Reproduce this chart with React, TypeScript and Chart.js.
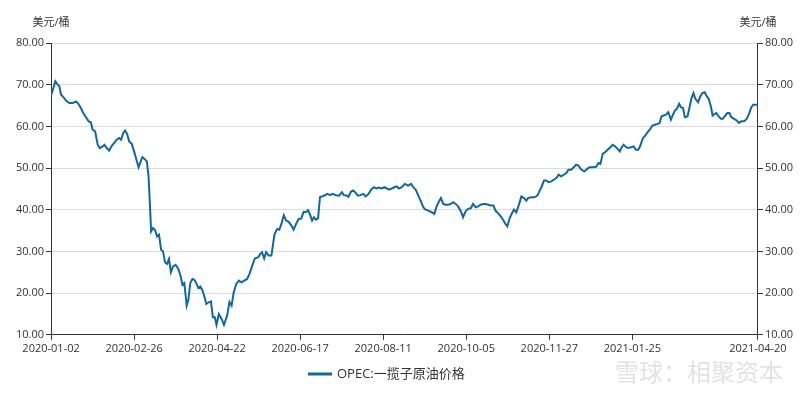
import React, { useEffect, useRef } from "react";
import { Chart, registerables } from "chart.js";

Chart.register(...registerables);

// Trading-day index since 2020-01-02 and OPEC basket price (USD/bbl)
const DAY: number[] = [
  0.0, 1.1, 2.0, 3.1, 3.9, 4.7, 5.8, 7.0, 8.6, 10.2, 11.7, 12.6, 14.0, 15.1, 16.4, 17.7, 18.7, 19.5, 20.7, 21.9,
  22.9, 24.2, 25.1, 26.1, 27.3, 28.6, 29.6, 30.8, 32.0, 32.9, 33.9, 34.8, 35.7, 36.7, 37.9, 39.0, 40.1, 41.1, 41.8, 42.9,
  43.9, 45.0, 45.8, 46.4, 47.0, 47.9, 48.8, 49.8, 50.7, 51.7, 52.6, 53.5, 54.5, 55.4, 56.3, 57.3, 58.5, 59.8, 60.9, 61.7,
  62.6, 63.7, 64.5, 65.4, 66.4, 67.3, 68.2, 69.2, 70.1, 71.0, 72.0, 72.9, 74.1, 75.1, 76.0, 76.9, 77.7, 78.8, 80.1, 81.2,
  82.7, 83.8, 84.8, 85.8, 87.0, 88.2, 89.4, 90.7, 92.1, 93.2, 94.5, 95.7, 97.3, 98.3, 99.1, 100.1, 101.0, 102.2, 103.5, 104.4,
  105.0, 106.2, 107.2, 108.2, 109.3, 110.4, 111.6, 112.9, 113.9, 115.1, 116.3, 117.5, 118.6, 119.7, 120.7, 121.8, 122.6, 123.5, 124.4, 125.4,
  126.3, 127.2, 128.5, 129.7, 131.1, 132.2, 133.8, 135.3, 136.6, 137.5, 138.8, 139.7, 140.8, 141.9, 142.8, 144.1, 145.3, 146.6, 147.8, 149.1,
  150.3, 151.6, 152.8, 154.1, 155.3, 156.5, 157.7, 158.7, 160.0, 161.2, 162.4, 163.4, 164.7, 166.2, 167.8, 169.1, 170.1, 171.3, 172.5, 173.7,
  174.8, 175.9, 177.2, 178.7, 180.0, 181.1, 182.2, 183.1, 184.2, 185.3, 186.5, 187.8, 188.9, 190.0, 191.2, 192.5, 193.5, 194.7, 195.9, 197.2,
  198.2, 199.4, 200.6, 201.8, 202.9, 204.0, 205.3, 206.5, 207.8, 208.7, 209.9, 211.2, 212.3, 213.4, 214.3, 215.4, 216.5, 217.4, 218.5, 219.6,
  220.9, 222.1, 223.2, 224.0, 225.6, 227.1, 228.4, 229.5, 230.3, 231.5, 232.6, 233.7, 234.9, 236.2, 237.3, 238.4, 239.6, 240.8, 242.0, 243.0,
  244.3, 245.5, 246.6, 247.7, 248.7, 249.7, 250.5, 251.8, 252.9, 254.4, 256.0, 257.1, 258.0, 259.1, 260.2, 261.4, 262.7, 263.8, 264.9, 266.1,
  267.1, 268.0, 268.9, 270.1, 271.1, 272.4, 273.6, 274.7, 275.8, 276.8, 277.8, 279.0, 280.2, 281.4, 282.5, 283.6, 284.9, 285.8, 286.7, 287.7,
  288.8, 289.9, 291.1, 292.1, 293.0, 293.9, 295.0, 295.8, 296.8, 297.7, 298.9, 299.8, 300.8, 301.7, 302.6, 303.9, 304.9, 305.9, 307.0, 308.0,
  308.9, 309.9, 310.7, 311.4, 312.4, 313.3, 314.6, 315.5, 316.4, 317.6, 318.6, 319.5, 320.8, 322.0, 323.1, 324.2, 325.5, 326.7, 327.8, 328.9,
  329.8, 330.9, 332.0,
];

const PRICE: number[] = [
  67.4, 69.2, 70.8, 70.0, 69.6, 67.6, 67.0, 66.2, 65.6, 65.6, 66.0, 65.6, 64.4, 63.2, 62.2, 61.2, 61.0, 59.2, 58.8, 55.6,
  54.8, 55.2, 55.6, 54.8, 54.2, 55.4, 56.0, 56.8, 57.2, 56.8, 58.4, 59.0, 58.2, 56.4, 55.8, 54.0, 52.0, 50.2, 51.2, 52.6,
  52.2, 51.6, 48.0, 41.6, 34.8, 35.6, 35.2, 33.6, 34.0, 30.4, 30.0, 27.4, 27.0, 28.2, 25.0, 26.4, 26.8, 25.8, 24.0, 22.0,
  22.4, 17.0, 18.4, 22.4, 23.4, 23.2, 22.4, 21.2, 21.6, 20.8, 19.2, 17.4, 17.8, 18.0, 14.2, 14.2, 12.4, 15.0, 13.8, 12.4,
  14.6, 17.9, 17.0, 20.2, 22.2, 23.0, 22.6, 23.0, 23.4, 24.6, 26.6, 28.3, 28.6, 29.4, 29.8, 28.3, 29.8, 29.0, 29.0, 32.2,
  34.2, 35.4, 35.2, 36.6, 38.7, 37.4, 37.1, 36.2, 35.2, 36.6, 37.8, 37.9, 39.5, 39.4, 39.9, 38.6, 37.4, 38.2, 37.6, 37.9,
  43.0, 43.2, 43.4, 43.8, 43.5, 43.8, 43.5, 43.4, 44.2, 43.5, 43.4, 43.1, 44.3, 44.6, 44.2, 43.4, 43.5, 43.8, 43.2, 43.8,
  44.8, 45.4, 45.1, 45.3, 45.1, 45.4, 45.1, 44.8, 45.1, 45.4, 45.6, 45.1, 45.4, 46.2, 45.8, 46.2, 45.4, 44.8, 43.4, 42.0,
  40.6, 40.0, 39.8, 39.4, 39.0, 40.8, 42.0, 42.8, 41.4, 41.2, 41.2, 41.4, 41.8, 41.4, 40.8, 39.6, 38.2, 39.6, 40.2, 40.4,
  41.4, 40.6, 40.8, 41.2, 41.4, 41.4, 41.2, 41.0, 41.0, 39.8, 39.2, 38.4, 37.6, 36.6, 36.0, 38.0, 39.2, 40.0, 39.4, 41.0,
  43.2, 42.8, 42.2, 42.8, 43.0, 43.0, 43.4, 44.6, 45.4, 47.0, 47.0, 46.6, 46.8, 47.2, 47.6, 48.4, 48.0, 48.4, 48.8, 49.6,
  49.6, 50.2, 50.8, 50.6, 49.8, 49.4, 49.2, 49.8, 50.2, 50.2, 50.3, 51.2, 51.0, 53.4, 53.8, 54.4, 55.0, 55.6, 55.2, 54.6,
  54.0, 55.0, 55.6, 55.0, 54.8, 55.0, 55.2, 54.4, 54.4, 55.4, 57.0, 57.8, 58.6, 59.4, 60.2, 60.4, 60.6, 60.8, 62.4, 62.6,
  62.8, 63.4, 61.6, 62.8, 63.8, 64.2, 65.4, 64.6, 64.4, 62.2, 62.4, 64.4, 66.8, 68.0, 66.6, 65.8, 67.2, 68.0, 68.2, 67.2,
  66.6, 64.8, 62.6, 62.9, 63.2, 62.6, 61.8, 61.8, 62.4, 63.2, 63.2, 62.2, 61.8, 61.4, 60.8, 61.2, 61.2, 61.8, 63.0, 64.6,
  65.2, 65.2, 65.2,
];

const X_TICK_DAY: number[] = [0, 39, 78, 117, 156, 195, 234, 273, 332];
const X_TICK_LABEL: string[] = [
  "2020-01-02", "2020-02-26", "2020-04-22", "2020-06-17", "2020-08-11",
  "2020-10-05", "2020-11-27", "2021-01-25", "2021-04-20",
];
const Y_MIN = 10;
const Y_MAX = 80;
const Y_STEP = 10;
const UNIT = "美元/桶";
const SERIES_NAME = "OPEC:一揽子原油价格";
const WATERMARK = "雪球：相聚资本";

const LINE_COLOR = "#14679a";
const TEXT_COLOR = "#333333";
const FONT = "'Open Sans', 'Noto Sans CJK SC', sans-serif";

export default function App() {
  const ref = useRef<HTMLCanvasElement | null>(null);

  useEffect(() => {
    document.body.style.margin = "0";
    const canvas = ref.current;
    if (!canvas) return;

    const overlayPlugin = {
      id: "overlay",
      afterDraw(chart: any) {
        const { ctx, chartArea } = chart;
        ctx.save();
        // unit titles above both y axes
        ctx.font = `11px ${FONT}`;
        ctx.fillStyle = TEXT_COLOR;
        ctx.textAlign = "center";
        ctx.textBaseline = "middle";
        ctx.fillText(UNIT, chartArea.left, 23);
        ctx.fillText(UNIT, chartArea.right, 23);
        // legend
        const ly = 374;
        ctx.strokeStyle = LINE_COLOR;
        ctx.lineWidth = 3;
        ctx.beginPath();
        ctx.moveTo(308, ly);
        ctx.lineTo(332, ly);
        ctx.stroke();
        ctx.font = `13px ${FONT}`;
        ctx.textAlign = "left";
        ctx.fillText(SERIES_NAME, 337, ly);
        // watermark
        ctx.font = `24px 'Noto Sans CJK SC', sans-serif`;
        ctx.fillStyle = "rgba(150,150,150,0.28)";
        ctx.fillText(WATERMARK, 615, 372);
        ctx.restore();
      },
    };

    const yAxis = (position: "left" | "right", grid: boolean) => ({
      type: "linear" as const,
      position,
      min: Y_MIN,
      max: Y_MAX,
      ticks: {
        stepSize: Y_STEP,
        color: TEXT_COLOR,
        font: { family: FONT, size: 11 },
        padding: 2,
        callback: (v: any) => Number(v).toFixed(2),
      },
      grid: {
        drawOnChartArea: grid,
        color: "#dcdcdc",
        lineWidth: 1,
        tickLength: 5,
        tickColor: TEXT_COLOR,
      },
      border: { display: true, color: TEXT_COLOR, width: 1 },
    });

    const chart = new Chart(canvas, {
      type: "line",
      data: {
        datasets: [
          {
            label: SERIES_NAME,
            data: DAY.map((d, i) => ({ x: d, y: PRICE[i] })),
            borderColor: LINE_COLOR,
            backgroundColor: LINE_COLOR,
            borderWidth: 2,
            pointRadius: 0,
            tension: 0,
          },
        ],
      },
      options: {
        animation: false,
        responsive: false,
        maintainAspectRatio: false,
        layout: { padding: { top: 43, left: 14, right: 5, bottom: 38 } },
        plugins: {
          legend: { display: false },
          tooltip: { enabled: false },
        },
        scales: {
          x: {
            type: "linear",
            min: 0,
            max: X_TICK_DAY[X_TICK_DAY.length - 1],
            afterBuildTicks: (scale: any) => {
              scale.ticks = X_TICK_DAY.map((v) => ({ value: v }));
            },
            ticks: {
              autoSkip: false,
              maxRotation: 0,
              color: TEXT_COLOR,
              font: { family: FONT, size: 11 },
              padding: 2,
              callback: (v: any) => {
                const i = X_TICK_DAY.indexOf(Number(v));
                return i >= 0 ? X_TICK_LABEL[i] : "";
              },
            },
            grid: { drawOnChartArea: false, tickLength: 5, tickColor: TEXT_COLOR },
            border: { display: true, color: TEXT_COLOR, width: 1 },
          },
          y: yAxis("left", true),
          y2: yAxis("right", false),
        },
      },
      plugins: [overlayPlugin],
    });

    return () => chart.destroy();
  }, []);

  return (
    <div style={{ position: "absolute", left: 0, top: 0, width: 800, height: 395 }}>
      <canvas ref={ref} width={800} height={395} />
    </div>
  );
}
